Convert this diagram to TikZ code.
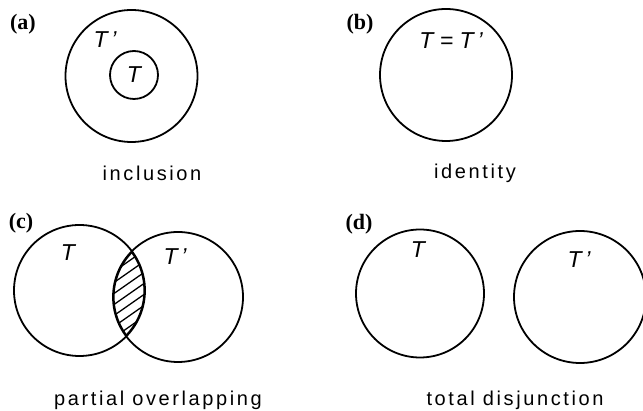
\documentclass[tikz,border=0pt]{standalone}
\usepackage{fontspec}
\setmainfont{Liberation Serif}
\setsansfont{Liberation Sans}
\newfontfamily\capfont[LetterSpace=13]{Liberation Sans}
\usetikzlibrary{positioning}
\tikzset{
  setcirc/.style={circle,draw,line width=1.8pt,inner sep=0pt},
  tag/.style={font=\fontsize{22}{22}\selectfont\bfseries,inner sep=0pt},
  setname/.style={font=\fontsize{23}{23}\selectfont\sffamily\itshape,inner sep=0pt},
  caption/.style={font=\fontsize{20}{20}\selectfont\capfont,inner sep=0pt},
  hatch/.style={line width=1.3pt}
}

\begin{document}
\begin{tikzpicture}[x=1pt,y=-1pt]
  \useasboundingbox (0,0) rectangle (643,411);
  % (a) inclusion
  \node[tag] (taga) at (23,24) {(a)};
  \node[setcirc,minimum size=132pt] (outa) at (131.5,76) {};
  \node[setcirc,minimum size=48pt] (ina) at (134,75) {};
  \node[setname] (ta) at (ina) {T};
  \node[setname] (tpa) at (105,40) {T\,'};
  \node[caption] (capa) at (152,173) {inclusion};
  % (b) identity
  \node[tag] (tagb) at (360,24) {(b)};
  \node[setcirc,minimum size=132pt] (cb) at (446,75) {};
  \node[setname] (tb) at (451,41) {T = T\,'};
  \node[caption] (capb) at (475,173) {identity};
  % (c) partial overlapping
  \node[tag] (tagc) at (21,223) {(c)};
  \node[setcirc,minimum size=131pt] (lc) at (79.5,290.5) {};
  \node[setcirc,minimum size=130pt] (rc) at (178,297) {};
  \begin{scope}
    \clip (lc.center) circle (65.5pt);
    \clip (rc.center) circle (65pt);
    \foreach \k in {-8,...,8}
      \draw[hatch] (89,294+\k*11+28) -- (169,294+\k*11-28);
    \draw[line width=3.2pt] (lc.center) circle (65.5pt);
    \draw[line width=3.2pt] (rc.center) circle (65pt);
  \end{scope}
  \node[setname] (tc) at (68,253) {T};
  \node[setname] (tpc) at (175,257) {T\,'};
  \node[caption] (capc) at (158,400) {partial overlapping};
  % (d) total disjunction
  \node[tag] (tagd) at (359,224) {(d)};
  \node[setcirc,minimum size=128pt] (ld) at (420,293.5) {};
  \node[setcirc,minimum size=132pt] (rd) at (580,297) {};
  \node[setname] (td) at (418,250) {T};
  \node[setname] (tpd) at (579,260) {T\,'};
  \node[caption] (capd) at (515,400) {total disjunction};
\end{tikzpicture}
\end{document}
